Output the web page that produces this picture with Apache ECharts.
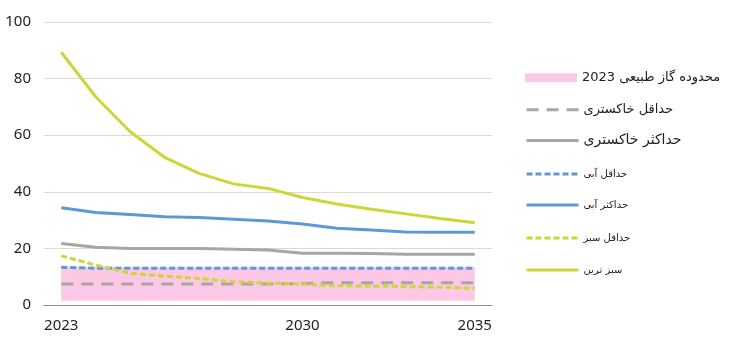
<!DOCTYPE html>
<html><head><meta charset="utf-8">
<script src="https://cdn.jsdelivr.net/npm/echarts@6/dist/echarts.min.js"></script>
<style>html,body{margin:0;padding:0;background:#fff}#c{width:756px;height:349px}</style>
</head><body><div id="c"></div>
<script>
const years = ['2023','2024','2025','2026','2027','2028','2029','2030','2031','2032','2033','2034','2035'];
const xLabels = ['2023','2030','2035'];
const yTicks = [0,20,40,60,80,100];
const gasBase = [1.5,1.5,1.5,1.5,1.5,1.5,1.5,1.5,1.5,1.5,1.5,1.5,1.5];
const gasTop  = [13.5,13.5,13.5,13.5,13.5,13.5,13.5,13.5,13.5,13.5,13.5,13.5,13.5];
const greyMin = [7.4,7.4,7.4,7.4,7.4,7.4,7.4,7.6,7.9,7.9,7.9,7.9,7.9];
const greyMax = [21.7,20.4,20.0,20.0,20.0,19.7,19.4,18.3,18.3,18.2,17.9,17.9,17.9];
const blueMin = [13.3,13.0,13.0,13.0,13.0,13.0,13.0,13.0,13.0,13.0,13.0,13.0,13.0];
const blueMax = [34.4,32.7,32.0,31.2,30.9,30.3,29.7,28.6,27.1,26.5,25.8,25.7,25.7];
const greenMin = [17.4,14.1,11.2,10.2,9.4,8.2,7.7,7.4,6.8,6.7,6.5,6.3,5.9];
const greenMax = [89.3,73.6,61.2,52.2,46.5,42.8,41.2,38.0,35.7,33.8,32.2,30.6,29.1];

const names = {
  gas: 'محدوده گاز طبیعی 2023',
  greyMin: 'حداقل خاکستری',
  greyMax: 'حداکثر خاکستری',
  blueMin: 'حداقل آبی',
  blueMax: 'حداکثر آبی',
  greenMin: 'حداقل سبز',
  greenMax: 'سبز ترین'
};
const C = {pink:'#FCC8E6', grey:'#A6A6A6', blue:'#5B9BD5', green:'#CCD637'};
const gasBand = gasTop.map((v,i)=>+(v-gasBase[i]).toFixed(2));

function line(name, data, color, dash){
  return {name, type:'line', data, symbol:'none', smooth:false, z:3,
    lineStyle:{color, width:3, type: dash || 'solid', cap:'butt'},
    itemStyle:{color}};
}
const series = [
  {name:'base', type:'line', stack:'gas', data:gasBase, symbol:'none', lineStyle:{width:0}, areaStyle:{opacity:0}, silent:true, z:1},
  {name:names.gas, type:'line', stack:'gas', data:gasBand, symbol:'none', lineStyle:{width:0}, areaStyle:{color:C.pink, opacity:1}, itemStyle:{color:C.pink}, z:1},
  line(names.greyMin, greyMin, C.grey, [12,8]),
  line(names.greyMax, greyMax, C.grey),
  line(names.blueMin, blueMin, C.blue, [6,3]),
  line(names.blueMax, blueMax, C.blue),
  line(names.greenMin, greenMin, C.green, [6,3]),
  line(names.greenMax, greenMax, C.green)
];

const legendSpec = [
  [names.gas, 79, 13, 'rect', 9],
  [names.greyMin, 111, 13, null, 14],
  [names.greyMax, 142, 14, null, 14],
  [names.blueMin, 175, 10, null, 12],
  [names.blueMax, 206, 10, null, 12],
  [names.greenMin, 239, 10, null, 12],
  [names.greenMax, 271, 10, null, 12]
];
const legends = legendSpec.map(([n, yc, fs, icon, ih]) => {
  const d = {name:n};
  if (icon) d.icon = icon;
  const lg = {data:[d], left:525, top: yc - Math.max(ih, fs*1.2)/2, itemWidth:52, itemHeight:ih,
    padding:0, itemGap:0, selectedMode:false,
    textStyle:{fontSize:fs, color:'#222', fontFamily:'DejaVu Sans', padding:[0,0,0,0]}};
  if (!icon) { lg.itemStyle = {opacity:0}; lg.lineStyle = {width:3}; }
  return lg;
});

const chart = echarts.init(document.getElementById('c'), null, {renderer:'canvas'});
chart.setOption({
  animation:false,
  legend: legends,
  grid:{left:44, right:264, top:22, bottom:44, containLabel:false},
  xAxis:{type:'category', data:years, boundaryGap:true,
    axisLine:{lineStyle:{color:'#8c8c8c', width:1}},
    axisTick:{interval:0, length:5, lineStyle:{color:'#8c8c8c'}},
    axisLabel:{interval:(i,v)=>xLabels.indexOf(v)>=0, margin:13, fontSize:15, color:'#222', fontFamily:'Noto Sans'}
  },
  yAxis:{type:'value', min:yTicks[0], max:yTicks[yTicks.length-1], interval:20,
    axisLine:{show:false}, axisTick:{show:false},
    splitLine:{lineStyle:{color:'#d9d9d9', width:1}},
    axisLabel:{margin:13, fontSize:15, color:'#222', fontFamily:'Noto Sans'}
  },
  series
});
</script></body></html>
